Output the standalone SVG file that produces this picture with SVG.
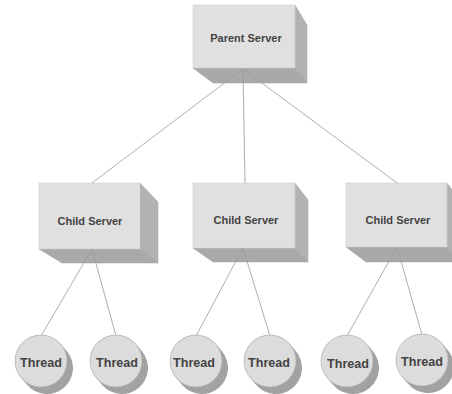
<svg xmlns="http://www.w3.org/2000/svg" width="452" height="394" viewBox="0 0 452 394">
<style>
.front{fill:#e0e0e0;stroke:#cfcfcf;stroke-width:0.6}
.side{fill:#b2b2b2;stroke:#a8a8a8;stroke-width:0.5}
.bottom{fill:#a9a9a9;stroke:#a0a0a0;stroke-width:0.5}
.lbl{font-family:"Liberation Sans",Arial,sans-serif;font-weight:bold;fill:#444;text-anchor:middle}
.srv{font-size:11px}
.thr{font-size:12.6px}
.conn line{stroke:#9a9a9a;stroke-width:0.8;fill:none}
.shadow{stroke:#a2a2a2;stroke-width:52;stroke-linecap:round}
.disc{fill:#dcdcdc;stroke:#b0b0b0;stroke-width:0.6}
</style>
<rect width="452" height="394" fill="#ffffff"/>
<g id="parent">
<polygon class="side" points="295,5 307,25 307,83 295,68"/>
<polygon class="bottom" points="193,68 295,68 307,83 213,83"/>
<rect class="front" x="193" y="5" width="102" height="63"/>
<text class="lbl srv" x="246" y="42">Parent Server</text>
</g>
<g id="child1">
<polygon class="side" points="140,183 158,202 158,263 140,249"/>
<polygon class="bottom" points="39,249 140,249 158,263 62,263"/>
<rect class="front" x="39" y="183" width="101" height="66"/>
<text class="lbl srv" x="90" y="225">Child Server</text>
</g>
<g id="child2">
<polygon class="side" points="295,183 308,200 308,262 295,248"/>
<polygon class="bottom" points="193,248 295,248 308,262 213,262"/>
<rect class="front" x="193" y="183" width="102" height="65"/>
<text class="lbl srv" x="246" y="224">Child Server</text>
</g>
<g id="child3">
<polygon class="side" points="447,183 460,200 460,262 447,247"/>
<polygon class="bottom" points="346,247 447,247 460,262 366,262"/>
<rect class="front" x="346" y="183" width="101" height="64"/>
<text class="lbl srv" x="398" y="224">Child Server</text>
</g>
<g id="connectors" class="conn">
<line x1="243" y1="69" x2="92" y2="183"/>
<line x1="243" y1="69" x2="245" y2="183"/>
<line x1="243" y1="69" x2="397" y2="183"/>
<line x1="92" y1="249" x2="41" y2="336"/>
<line x1="92" y1="249" x2="116" y2="336"/>
<line x1="243" y1="248" x2="196" y2="336"/>
<line x1="243" y1="248" x2="270" y2="336"/>
<line x1="397" y1="247" x2="347" y2="336"/>
<line x1="397" y1="247" x2="422" y2="335"/>
</g>
<g id="thread1">
<line class="shadow" x1="41" y1="361" x2="47" y2="368"/>
<circle class="disc" cx="41" cy="361" r="26"/>
<text class="lbl thr" x="41" y="367">Thread</text>
</g>
<g id="thread2">
<line class="shadow" x1="116" y1="361" x2="122" y2="368"/>
<circle class="disc" cx="116" cy="361" r="26"/>
<text class="lbl thr" x="117" y="367">Thread</text>
</g>
<g id="thread3">
<line class="shadow" x1="196" y1="361" x2="202" y2="368"/>
<circle class="disc" cx="196" cy="361" r="26"/>
<text class="lbl thr" x="194" y="367">Thread</text>
</g>
<g id="thread4">
<line class="shadow" x1="270" y1="361" x2="276" y2="368"/>
<circle class="disc" cx="270" cy="361" r="26"/>
<text class="lbl thr" x="269" y="367">Thread</text>
</g>
<g id="thread5">
<line class="shadow" x1="347" y1="361" x2="353" y2="368"/>
<circle class="disc" cx="347" cy="361" r="26"/>
<text class="lbl thr" x="348" y="368">Thread</text>
</g>
<g id="thread6">
<line class="shadow" x1="422" y1="360" x2="428" y2="367"/>
<circle class="disc" cx="422" cy="360" r="26"/>
<text class="lbl thr" x="422" y="366">Thread</text>
</g>
</svg>
